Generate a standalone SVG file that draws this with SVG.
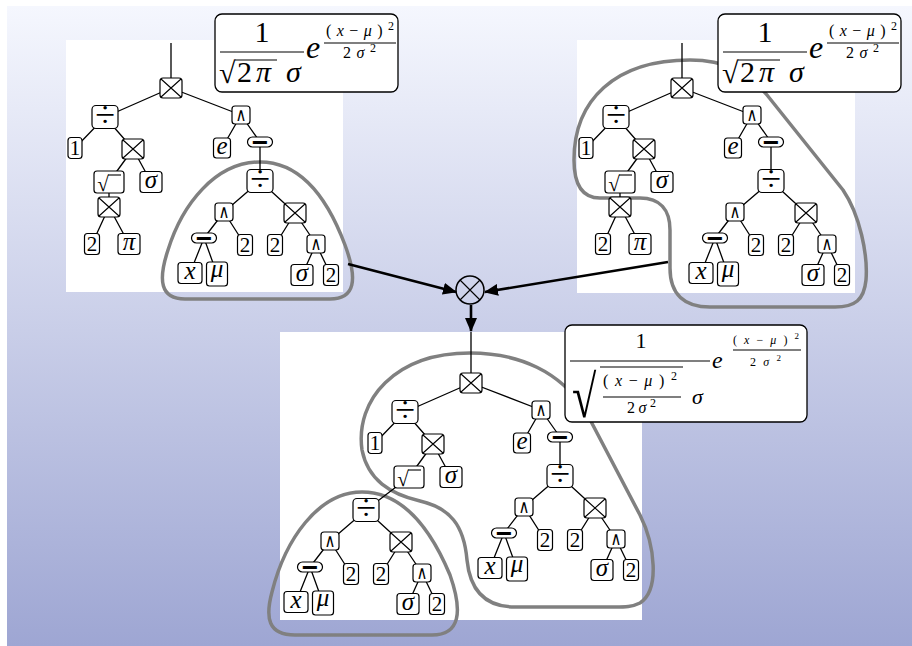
<svg xmlns="http://www.w3.org/2000/svg" width="912" height="646" viewBox="0 0 912 646">
<defs>
<linearGradient id="bgg" x1="0" y1="0" x2="0" y2="1">
<stop offset="0" stop-color="#f5f7fe"/>
<stop offset="1" stop-color="#9ea6d3"/>
</linearGradient>
<marker id="ah" viewBox="0 0 14 12" refX="13" refY="6" markerUnits="userSpaceOnUse" markerWidth="14" markerHeight="12" orient="auto">
<path d="M0 0L14 6L0 12z" fill="#000"/>
</marker>
<style>
.pn{fill:#fff}
.nd{fill:#fff;stroke:#000;stroke-width:1.2}
.xl{stroke:#000;stroke-width:1.1;fill:none}
.ed{stroke:#000;stroke-width:1.3;fill:none}
.lp{fill:none;stroke:#808080;stroke-width:3.5;stroke-linejoin:round}
.lb{font-family:"Liberation Serif",serif;font-size:21px;text-anchor:middle}
.lv{font-family:"Liberation Serif",serif;font-size:25px;font-style:italic;text-anchor:middle}
.op{font-family:"Liberation Serif",serif;font-size:36px;text-anchor:middle}
.wg{font-family:"DejaVu Sans",sans-serif;font-size:15px;text-anchor:middle;transform:scale(1,1.25)}
.mn{font-family:"Liberation Sans",sans-serif;font-weight:bold;font-size:28px;text-anchor:middle}
.sq{font-family:"Liberation Serif",serif;font-size:21px;text-anchor:middle}
.fb{fill:#fff;stroke:#000;stroke-width:1.3}
.fm{font-family:"Liberation Serif",serif}
.it{font-style:italic}
.fl{stroke:#000;stroke-width:1.2}
.ar{stroke:#000;stroke-width:2.6;fill:none}
</style>
</defs>
<rect x="7" y="6" width="905" height="640" fill="url(#bgg)"/>
<rect class="pn" x="66" y="40" width="277" height="252"/>
<rect class="pn" x="577" y="40" width="278" height="253"/>
<rect class="pn" x="280" y="332" width="362" height="288"/>
<g id="loops">
<path class="lp" d="M260 162C305 162 330 205 345 245C358 280 355 299 330 299L185 299C160 299 158 280 168 250C182 205 215 162 260 162Z"/>
<path class="lp" d="M690 60C725 60 748 72 767 95L843 190C860 215 868 255 866 280C864 300 855 307 835 307L710 307C685 307 670 295 670 268L670 230C670 210 660 198 640 198L600 198C582 198 574 185 574 160C574 100 615 60 690 60Z"/>
<path class="lp" d="M470 353C520 353 560 372 585 410L640 515C655 545 660 590 640 603C632 607 625 607 615 607L515 607C485 607 470 590 467 560C464 525 450 508 420 501C390 494 368 480 362 450C355 400 395 353 470 353Z"/>
<path class="lp" d="M362 492C405 492 432 532 450 575C463 612 460 635 432 635L295 635C268 635 265 618 272 592C285 540 318 492 362 492Z"/>
</g>
<g id="edges">
<path class="ed" d="M171 43L171 88M171 88L105 117M171 88L241 115M105 117L75 148M105 117L133 149M241 115L222 148M241 115L260 142M133 149L109 182M133 149L151 182M260 142L260 181M109 182L109 207M260 181L224 212M260 181L295 213M109 207L92 244M109 207L129 244M224 212L204 238M224 212L245 245M295 213L275 245M295 213L316 244M204 238L190 273M204 238L217 274M316 244L302 275M316 244L331 275"/>
<path class="ed" d="M682 43L682 88M682 88L616 117M682 88L752 115M616 117L586 148M616 117L644 149M752 115L733 148M752 115L771 142M644 149L620 182M644 149L662 182M771 142L771 181M620 182L620 207M771 181L735 212M771 181L806 213M620 207L603 244M620 207L640 244M735 212L715 238M735 212L756 245M806 213L786 245M806 213L827 244M715 238L701 273M715 238L728 274M827 244L813 275M827 244L842 275"/>
<path class="ed" d="M471 332L471 383M471 383L405 412M471 383L541 410M405 412L375 443M405 412L433 444M541 410L522 443M541 410L560 437M433 444L409 477M433 444L451 477M560 437L560 476M560 476L524 507M560 476L595 508M524 507L504 533M524 507L545 540M595 508L575 540M595 508L616 539M504 533L490 568M504 533L517 569M616 539L602 570M616 539L631 570"/>
<path class="ed" d="M409 477L366 510M366 510L330 541M366 510L401 542M330 541L310 567M330 541L351 574M401 542L381 574M401 542L422 573M310 567L296 602M310 567L323 603M422 573L408 604M422 573L437 604"/>
<path class="ar" d="M348 264L456 292" marker-end="url(#ah)"/>
<path class="ar" d="M668 262L485 292" marker-end="url(#ah)"/>
<path class="ar" d="M471 305L471 331" marker-end="url(#ah)"/>
</g>
<g id="tree-left">
<g id="lA" transform="translate(171 88)"><rect class="nd" x="-11" y="-10" width="22" height="20" rx="3"/><path class="xl" d="M-10-9L10 9M-10 9L10-9"/></g>
<g id="lB" transform="translate(105 117)"><rect class="nd" x="-13" y="-11.5" width="26" height="23" rx="4"/><text class="op" y="10">÷</text></g>
<g id="lC" transform="translate(241 115)"><rect class="nd" x="-9" y="-9" width="18" height="18" rx="3"/><text class="wg" y="4.6">∧</text></g>
<g id="lD" transform="translate(75 148)"><rect class="nd" x="-7" y="-10.5" width="14" height="21" rx="3"/><text class="lb" y="7">1</text></g>
<g id="lE" transform="translate(133 149)"><rect class="nd" x="-11" y="-10" width="22" height="20" rx="3"/><path class="xl" d="M-10-9L10 9M-10 9L10-9"/></g>
<g id="lF" transform="translate(222 148)"><rect class="nd" x="-8.5" y="-10" width="17" height="20" rx="3"/><text class="lv" y="6">e</text></g>
<g id="lG" transform="translate(260 142)"><rect class="nd" x="-12.5" y="-5" width="25" height="10" rx="5"/><text class="mn" y="9.5">−</text></g>
<g id="lH" transform="translate(109 182)"><rect class="nd" x="-15" y="-11" width="30" height="22" rx="3"/><text class="sq" x="-6" y="9">√</text><path class="xl" d="M-1-7H12"/></g>
<g id="lI" transform="translate(151 182)"><rect class="nd" x="-11" y="-10.5" width="22" height="21" rx="3"/><text class="lv" y="6">σ</text></g>
<g id="lJ" transform="translate(260 181)"><rect class="nd" x="-13" y="-11.5" width="26" height="23" rx="4"/><text class="op" y="10">÷</text></g>
<g id="lK" transform="translate(109 207)"><rect class="nd" x="-11" y="-10" width="22" height="20" rx="3"/><path class="xl" d="M-10-9L10 9M-10 9L10-9"/></g>
<g id="lL" transform="translate(224 212)"><rect class="nd" x="-9" y="-9" width="18" height="18" rx="3"/><text class="wg" y="4.6">∧</text></g>
<g id="lM" transform="translate(295 213)"><rect class="nd" x="-11" y="-10" width="22" height="20" rx="3"/><path class="xl" d="M-10-9L10 9M-10 9L10-9"/></g>
<g id="lN" transform="translate(92 244)"><rect class="nd" x="-7.5" y="-10.5" width="15" height="21" rx="3"/><text class="lb" y="7">2</text></g>
<g id="lO" transform="translate(129 244)"><rect class="nd" x="-11" y="-10.5" width="22" height="21" rx="3"/><text class="lv" y="6">π</text></g>
<g id="lP" transform="translate(204 238)"><rect class="nd" x="-12.5" y="-5" width="25" height="10" rx="5"/><text class="mn" y="9.5">−</text></g>
<g id="lQ" transform="translate(245 245)"><rect class="nd" x="-7.5" y="-10.5" width="15" height="21" rx="3"/><text class="lb" y="7">2</text></g>
<g id="lR" transform="translate(275 245)"><rect class="nd" x="-7.5" y="-10.5" width="15" height="21" rx="3"/><text class="lb" y="7">2</text></g>
<g id="lS" transform="translate(316 244)"><rect class="nd" x="-9" y="-9" width="18" height="18" rx="3"/><text class="wg" y="4.6">∧</text></g>
<g id="lT" transform="translate(190 273)"><rect class="nd" x="-12" y="-10.5" width="24" height="21" rx="3"/><text class="lv" y="6">x</text></g>
<g id="lU" transform="translate(217 274)"><rect class="nd" x="-10.5" y="-12" width="21" height="24" rx="3"/><text class="lv" y="3">μ</text></g>
<g id="lV" transform="translate(302 275)"><rect class="nd" x="-11" y="-10.5" width="22" height="21" rx="3"/><text class="lv" y="6">σ</text></g>
<g id="lW" transform="translate(331 275)"><rect class="nd" x="-7.5" y="-10.5" width="15" height="21" rx="3"/><text class="lb" y="7">2</text></g>
</g>
<g id="tree-right">
<g id="rA" transform="translate(682 88)"><rect class="nd" x="-11" y="-10" width="22" height="20" rx="3"/><path class="xl" d="M-10-9L10 9M-10 9L10-9"/></g>
<g id="rB" transform="translate(616 117)"><rect class="nd" x="-13" y="-11.5" width="26" height="23" rx="4"/><text class="op" y="10">÷</text></g>
<g id="rC" transform="translate(752 115)"><rect class="nd" x="-9" y="-9" width="18" height="18" rx="3"/><text class="wg" y="4.6">∧</text></g>
<g id="rD" transform="translate(586 148)"><rect class="nd" x="-7" y="-10.5" width="14" height="21" rx="3"/><text class="lb" y="7">1</text></g>
<g id="rE" transform="translate(644 149)"><rect class="nd" x="-11" y="-10" width="22" height="20" rx="3"/><path class="xl" d="M-10-9L10 9M-10 9L10-9"/></g>
<g id="rF" transform="translate(733 148)"><rect class="nd" x="-8.5" y="-10" width="17" height="20" rx="3"/><text class="lv" y="6">e</text></g>
<g id="rG" transform="translate(771 142)"><rect class="nd" x="-12.5" y="-5" width="25" height="10" rx="5"/><text class="mn" y="9.5">−</text></g>
<g id="rH" transform="translate(620 182)"><rect class="nd" x="-15" y="-11" width="30" height="22" rx="3"/><text class="sq" x="-6" y="9">√</text><path class="xl" d="M-1-7H12"/></g>
<g id="rI" transform="translate(662 182)"><rect class="nd" x="-11" y="-10.5" width="22" height="21" rx="3"/><text class="lv" y="6">σ</text></g>
<g id="rJ" transform="translate(771 181)"><rect class="nd" x="-13" y="-11.5" width="26" height="23" rx="4"/><text class="op" y="10">÷</text></g>
<g id="rK" transform="translate(620 207)"><rect class="nd" x="-11" y="-10" width="22" height="20" rx="3"/><path class="xl" d="M-10-9L10 9M-10 9L10-9"/></g>
<g id="rL" transform="translate(735 212)"><rect class="nd" x="-9" y="-9" width="18" height="18" rx="3"/><text class="wg" y="4.6">∧</text></g>
<g id="rM" transform="translate(806 213)"><rect class="nd" x="-11" y="-10" width="22" height="20" rx="3"/><path class="xl" d="M-10-9L10 9M-10 9L10-9"/></g>
<g id="rN" transform="translate(603 244)"><rect class="nd" x="-7.5" y="-10.5" width="15" height="21" rx="3"/><text class="lb" y="7">2</text></g>
<g id="rO" transform="translate(640 244)"><rect class="nd" x="-11" y="-10.5" width="22" height="21" rx="3"/><text class="lv" y="6">π</text></g>
<g id="rP" transform="translate(715 238)"><rect class="nd" x="-12.5" y="-5" width="25" height="10" rx="5"/><text class="mn" y="9.5">−</text></g>
<g id="rQ" transform="translate(756 245)"><rect class="nd" x="-7.5" y="-10.5" width="15" height="21" rx="3"/><text class="lb" y="7">2</text></g>
<g id="rR" transform="translate(786 245)"><rect class="nd" x="-7.5" y="-10.5" width="15" height="21" rx="3"/><text class="lb" y="7">2</text></g>
<g id="rS" transform="translate(827 244)"><rect class="nd" x="-9" y="-9" width="18" height="18" rx="3"/><text class="wg" y="4.6">∧</text></g>
<g id="rT" transform="translate(701 273)"><rect class="nd" x="-12" y="-10.5" width="24" height="21" rx="3"/><text class="lv" y="6">x</text></g>
<g id="rU" transform="translate(728 274)"><rect class="nd" x="-10.5" y="-12" width="21" height="24" rx="3"/><text class="lv" y="3">μ</text></g>
<g id="rV" transform="translate(813 275)"><rect class="nd" x="-11" y="-10.5" width="22" height="21" rx="3"/><text class="lv" y="6">σ</text></g>
<g id="rW" transform="translate(842 275)"><rect class="nd" x="-7.5" y="-10.5" width="15" height="21" rx="3"/><text class="lb" y="7">2</text></g>
</g>
<g id="tree-bottom">
<g id="bA" transform="translate(471 383)"><rect class="nd" x="-11" y="-10" width="22" height="20" rx="3"/><path class="xl" d="M-10-9L10 9M-10 9L10-9"/></g>
<g id="bB" transform="translate(405 412)"><rect class="nd" x="-13" y="-11.5" width="26" height="23" rx="4"/><text class="op" y="10">÷</text></g>
<g id="bC" transform="translate(541 410)"><rect class="nd" x="-9" y="-9" width="18" height="18" rx="3"/><text class="wg" y="4.6">∧</text></g>
<g id="bD" transform="translate(375 443)"><rect class="nd" x="-7" y="-10.5" width="14" height="21" rx="3"/><text class="lb" y="7">1</text></g>
<g id="bE" transform="translate(433 444)"><rect class="nd" x="-11" y="-10" width="22" height="20" rx="3"/><path class="xl" d="M-10-9L10 9M-10 9L10-9"/></g>
<g id="bF" transform="translate(522 443)"><rect class="nd" x="-8.5" y="-10" width="17" height="20" rx="3"/><text class="lv" y="6">e</text></g>
<g id="bG" transform="translate(560 437)"><rect class="nd" x="-12.5" y="-5" width="25" height="10" rx="5"/><text class="mn" y="9.5">−</text></g>
<g id="bH" transform="translate(409 477)"><rect class="nd" x="-15" y="-11" width="30" height="22" rx="3"/><text class="sq" x="-6" y="9">√</text><path class="xl" d="M-1-7H12"/></g>
<g id="bI" transform="translate(451 477)"><rect class="nd" x="-11" y="-10.5" width="22" height="21" rx="3"/><text class="lv" y="6">σ</text></g>
<g id="bJ" transform="translate(560 476)"><rect class="nd" x="-13" y="-11.5" width="26" height="23" rx="4"/><text class="op" y="10">÷</text></g>
<g id="bL" transform="translate(524 507)"><rect class="nd" x="-9" y="-9" width="18" height="18" rx="3"/><text class="wg" y="4.6">∧</text></g>
<g id="bM" transform="translate(595 508)"><rect class="nd" x="-11" y="-10" width="22" height="20" rx="3"/><path class="xl" d="M-10-9L10 9M-10 9L10-9"/></g>
<g id="bP" transform="translate(504 533)"><rect class="nd" x="-12.5" y="-5" width="25" height="10" rx="5"/><text class="mn" y="9.5">−</text></g>
<g id="bQ" transform="translate(545 540)"><rect class="nd" x="-7.5" y="-10.5" width="15" height="21" rx="3"/><text class="lb" y="7">2</text></g>
<g id="bR" transform="translate(575 540)"><rect class="nd" x="-7.5" y="-10.5" width="15" height="21" rx="3"/><text class="lb" y="7">2</text></g>
<g id="bS" transform="translate(616 539)"><rect class="nd" x="-9" y="-9" width="18" height="18" rx="3"/><text class="wg" y="4.6">∧</text></g>
<g id="bT" transform="translate(490 568)"><rect class="nd" x="-12" y="-10.5" width="24" height="21" rx="3"/><text class="lv" y="6">x</text></g>
<g id="bU" transform="translate(517 569)"><rect class="nd" x="-10.5" y="-12" width="21" height="24" rx="3"/><text class="lv" y="3">μ</text></g>
<g id="bV" transform="translate(602 570)"><rect class="nd" x="-11" y="-10.5" width="22" height="21" rx="3"/><text class="lv" y="6">σ</text></g>
<g id="bW" transform="translate(631 570)"><rect class="nd" x="-7.5" y="-10.5" width="15" height="21" rx="3"/><text class="lb" y="7">2</text></g>
<g id="sJ" transform="translate(366 510)"><rect class="nd" x="-13" y="-11.5" width="26" height="23" rx="4"/><text class="op" y="10">÷</text></g>
<g id="sL" transform="translate(330 541)"><rect class="nd" x="-9" y="-9" width="18" height="18" rx="3"/><text class="wg" y="4.6">∧</text></g>
<g id="sM" transform="translate(401 542)"><rect class="nd" x="-11" y="-10" width="22" height="20" rx="3"/><path class="xl" d="M-10-9L10 9M-10 9L10-9"/></g>
<g id="sP" transform="translate(310 567)"><rect class="nd" x="-12.5" y="-5" width="25" height="10" rx="5"/><text class="mn" y="9.5">−</text></g>
<g id="sQ" transform="translate(351 574)"><rect class="nd" x="-7.5" y="-10.5" width="15" height="21" rx="3"/><text class="lb" y="7">2</text></g>
<g id="sR" transform="translate(381 574)"><rect class="nd" x="-7.5" y="-10.5" width="15" height="21" rx="3"/><text class="lb" y="7">2</text></g>
<g id="sS" transform="translate(422 573)"><rect class="nd" x="-9" y="-9" width="18" height="18" rx="3"/><text class="wg" y="4.6">∧</text></g>
<g id="sT" transform="translate(296 602)"><rect class="nd" x="-12" y="-10.5" width="24" height="21" rx="3"/><text class="lv" y="6">x</text></g>
<g id="sU" transform="translate(323 603)"><rect class="nd" x="-10.5" y="-12" width="21" height="24" rx="3"/><text class="lv" y="3">μ</text></g>
<g id="sV" transform="translate(408 604)"><rect class="nd" x="-11" y="-10.5" width="22" height="21" rx="3"/><text class="lv" y="6">σ</text></g>
<g id="sW" transform="translate(437 604)"><rect class="nd" x="-7.5" y="-10.5" width="15" height="21" rx="3"/><text class="lb" y="7">2</text></g>
</g>
<g id="combine"><circle cx="470" cy="290" r="14" fill="none" stroke="#000" stroke-width="1.5"/><path class="xl" d="M460 280L480 300M460 300L480 280" stroke-width="1.4"/></g>
<g id="formula-left" class="fm">
<rect class="fb" x="215" y="14" width="183" height="78" rx="7"/>
<text x="262" y="42" font-size="30" text-anchor="middle">1</text>
<path class="fl" d="M220 52H304"/>
<text x="219" y="83" font-size="30">√</text>
<path class="fl" d="M235 60H277"/>
<text x="237" y="82" font-size="30">2</text>
<text x="256" y="82" font-size="30" class="it">π</text>
<text x="286" y="82" font-size="30" class="it">σ</text>
<text x="306" y="58" font-size="32" class="it">e</text>
<text x="326" y="36" font-size="16" textLength="68" lengthAdjust="spacing">(<tspan class="it">x</tspan>−<tspan class="it">μ</tspan>)<tspan dy="-6" font-size="12">2</tspan></text>
<path class="fl" d="M324 43H396"/>
<text x="343" y="58" font-size="16" textLength="33" lengthAdjust="spacing">2<tspan class="it">σ</tspan><tspan dy="-6" font-size="12">2</tspan></text>
</g>
<g id="formula-right" class="fm">
<rect class="fb" x="718" y="14" width="183" height="78" rx="7"/>
<text x="765" y="42" font-size="30" text-anchor="middle">1</text>
<path class="fl" d="M723 52H807"/>
<text x="722" y="83" font-size="30">√</text>
<path class="fl" d="M738 60H780"/>
<text x="740" y="82" font-size="30">2</text>
<text x="759" y="82" font-size="30" class="it">π</text>
<text x="789" y="82" font-size="30" class="it">σ</text>
<text x="809" y="58" font-size="32" class="it">e</text>
<text x="829" y="36" font-size="16" textLength="68" lengthAdjust="spacing">(<tspan class="it">x</tspan>−<tspan class="it">μ</tspan>)<tspan dy="-6" font-size="12">2</tspan></text>
<path class="fl" d="M827 43H899"/>
<text x="846" y="58" font-size="16" textLength="33" lengthAdjust="spacing">2<tspan class="it">σ</tspan><tspan dy="-6" font-size="12">2</tspan></text>
</g>
<g id="formula-bottom" class="fm">
<rect class="fb" x="565" y="325" width="242" height="97" rx="7"/>
<text x="641" y="348" font-size="22" text-anchor="middle">1</text>
<path class="fl" d="M570 361H710"/>
<text transform="translate(572 417) scale(1.7 2.3)" font-size="26">√</text>
<path class="fl" d="M600 367H683"/>
<text x="603" y="386" font-size="16" textLength="74" lengthAdjust="spacing">(<tspan class="it">x</tspan>−<tspan class="it">μ</tspan>)<tspan dy="-6" font-size="12">2</tspan></text>
<path class="fl" d="M603 397H681"/>
<text x="627" y="413" font-size="16" textLength="29" lengthAdjust="spacing">2<tspan class="it">σ</tspan><tspan dy="-6" font-size="12">2</tspan></text>
<text x="692" y="404" font-size="22" class="it">σ</text>
<text x="712" y="368" font-size="24" class="it">e</text>
<text x="733" y="344" font-size="12" textLength="66" lengthAdjust="spacing">(<tspan class="it">x</tspan>−<tspan class="it">μ</tspan>)<tspan dy="-5" font-size="9">2</tspan></text>
<path class="fl" d="M733 350H801"/>
<text x="750" y="366" font-size="12" textLength="31" lengthAdjust="spacing">2<tspan class="it">σ</tspan><tspan dy="-5" font-size="9">2</tspan></text>
</g>
</svg>
